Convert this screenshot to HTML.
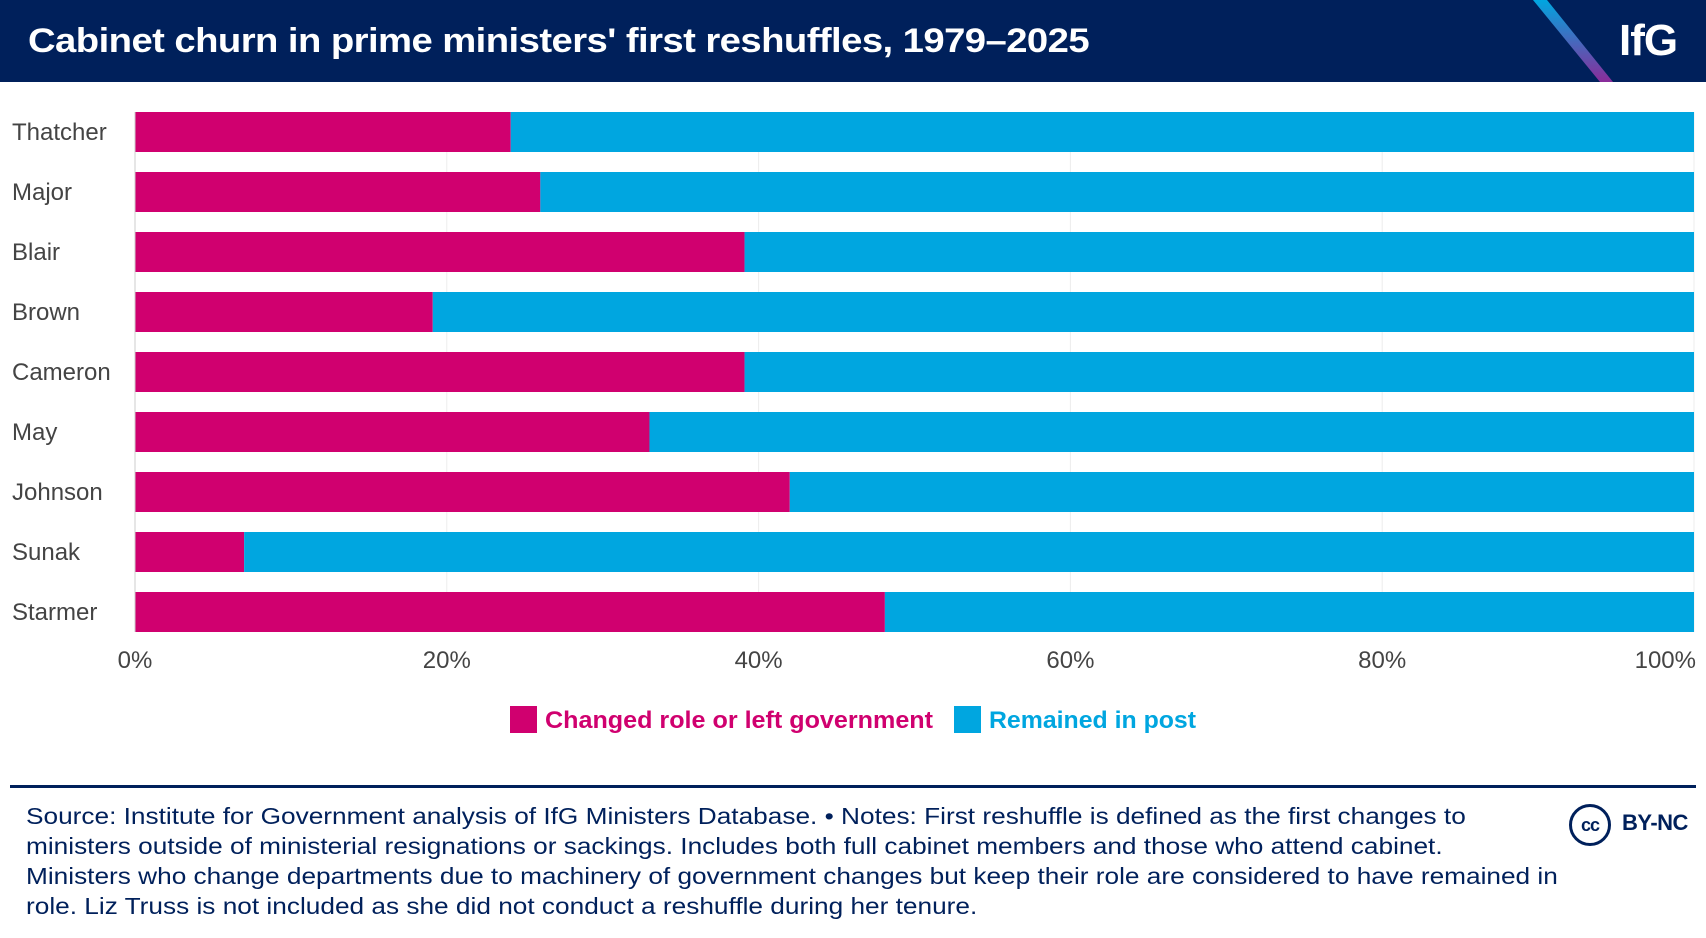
<!DOCTYPE html>
<html><head><meta charset="utf-8"><style>
html,body{margin:0;padding:0;background:#fff;}
body{width:1706px;height:938px;position:relative;overflow:hidden;font-family:"Liberation Sans",sans-serif;}
#hdr{position:absolute;left:0;top:0;width:1706px;height:82px;background:#00205b;overflow:hidden;}
#title{position:absolute;left:28px;top:22px;color:#fff;font-weight:bold;font-size:34px;letter-spacing:-0.5px;white-space:nowrap;transform-origin:0 0;transform:scaleX(1.125);}
#logo{position:absolute;left:1619px;top:16px;color:#fff;font-weight:bold;font-size:44px;letter-spacing:-1px;}
.foot{position:absolute;left:26px;color:#00205b;font-size:23px;white-space:nowrap;transform-origin:0 0;transform:scaleX(1.14);}
</style></head><body>
<div id="hdr">
<svg width="1706" height="82" style="position:absolute;left:0;top:0"><defs><linearGradient id="g" x1="0" y1="0" x2="0" y2="1"><stop offset="0" stop-color="#00a6e0"/><stop offset="1" stop-color="#8a2c9a"/></linearGradient></defs><polygon points="1533,0 1547,0 1613,82 1600,82" fill="url(#g)"/></svg>
<div id="title">Cabinet churn in prime ministers' first reshuffles, 1979–2025</div>
<div id="logo">IfG</div>
</div>
<svg id="chart" width="1706" height="780" style="position:absolute;left:0;top:82px"></svg>
<div style="position:absolute;left:10px;top:785px;width:1686px;height:3px;background:#00205b"></div>
<div class="foot" style="top:803px">Source: Institute for Government analysis of IfG Ministers Database. • Notes: First reshuffle is defined as the first changes to</div>
<div class="foot" style="top:833px">ministers outside of ministerial resignations or sackings. Includes both full cabinet members and those who attend cabinet.</div>
<div class="foot" style="top:863px">Ministers who change departments due to machinery of government changes but keep their role are considered to have remained in</div>
<div class="foot" style="top:893px">role. Liz Truss is not included as she did not conduct a reshuffle during her tenure.</div>
<div style="position:absolute;left:1569px;top:804px;width:36px;height:36px;border:3px solid #00205b;border-radius:50%;color:#00205b;font-weight:bold;font-size:18px;line-height:36px;text-align:center;letter-spacing:-1px">cc</div>
<div style="position:absolute;left:1622px;top:810px;color:#00205b;font-weight:bold;font-size:22px;letter-spacing:-0.5px">BY-NC</div>
<script>
const categories=["Thatcher","Major","Blair","Brown","Cameron","May","Johnson","Sunak","Starmer"];
const changed=[24.1,26.0,39.1,19.1,39.1,33.0,42.0,7.0,48.1];
const remained=[75.9,74.0,60.9,80.9,60.9,67.0,58.0,93.0,51.9];
const ticks=[0,20,40,60,80,100];
const tickLabels=["0%","20%","40%","60%","80%","100%"];
const NS="http://www.w3.org/2000/svg";
const svg=document.getElementById('chart');
const X0=135,X1=1694,Y0=30,PITCH=60,BH=40;
function x(v){return X0+(X1-X0)*v/100;}
function y(i){return Y0+i*PITCH;}
function mk(t,a){const e=document.createElementNS(NS,t);for(const k in a)e.setAttribute(k,a[k]);svg.appendChild(e);return e;}
ticks.forEach((t,i)=>{
 if(t>0){const g=mk('line',{x1:x(t),x2:x(t),y1:Y0,y2:y(categories.length-1)+BH,stroke:'#ececec','stroke-width':1});
 
 }
 const tl=mk('text',{x:x(t),y:y(categories.length-1)+BH+36,'text-anchor':i===ticks.length-1?'end':'middle','font-size':24,fill:'#444','font-family':'Liberation Sans, sans-serif'});
 if(i===ticks.length-1)tl.setAttribute('x',X1+2);
 tl.textContent=tickLabels[i];
 
 
});
categories.forEach((c,i)=>{
 const r1=mk('rect',{x:x(0),y:y(i),width:x(changed[i])-x(0),height:BH,fill:'#d0006f'});
 
 
 const r2=mk('rect',{x:x(changed[i]),y:y(i),width:x(changed[i]+remained[i])-x(changed[i]),height:BH,fill:'#00a6e0'});
 
 
 const t=mk('text',{x:12,y:y(i)+BH/2+8,'font-size':24,fill:'#444','font-family':'Liberation Sans, sans-serif'});
 t.textContent=c;
 
 
});
const ax=mk('line',{x1:X0,x2:X0,y1:Y0,y2:y(categories.length-1)+BH,stroke:'#ccc','stroke-width':1});


const ly=624;
const s1=mk('rect',{x:510,y:ly,width:27,height:27,fill:'#d0006f'});


const l1=mk('text',{x:545,y:ly+22,'font-size':24,'font-weight':'bold',fill:'#d0006f','font-family':'Liberation Sans, sans-serif',textLength:388,lengthAdjust:'spacingAndGlyphs'});
l1.textContent="Changed role or left government";


const s2=mk('rect',{x:954,y:ly,width:27,height:27,fill:'#00a6e0'});


const l2=mk('text',{x:989,y:ly+22,'font-size':24,'font-weight':'bold',fill:'#00a6e0','font-family':'Liberation Sans, sans-serif',textLength:207,lengthAdjust:'spacingAndGlyphs'});
l2.textContent="Remained in post";


</script>
</body></html>
